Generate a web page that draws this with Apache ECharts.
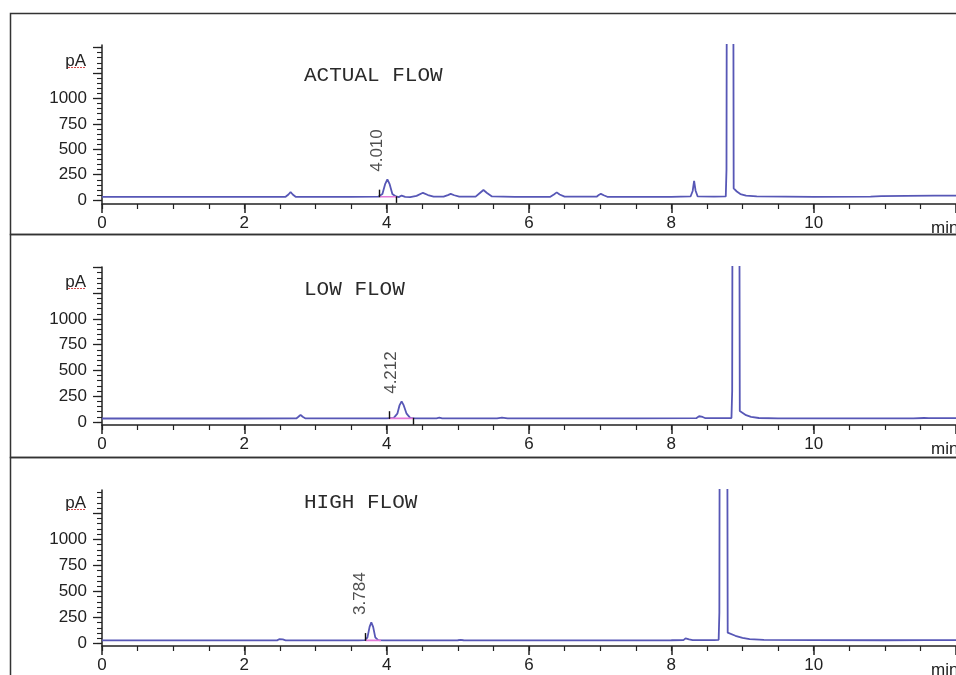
<!DOCTYPE html>
<html>
<head>
<meta charset="utf-8">
<script src="https://cdn.jsdelivr.net/npm/echarts@6/dist/echarts.min.js"></script>
<style>
html,body{margin:0;padding:0;background:#fff;}
#chart{width:956px;height:675px;}
</style>
</head>
<body>
<div id="chart"></div>
<script>
// ---------- DATA ----------
const panelTitles = ['ACTUAL FLOW', 'LOW FLOW', 'HIGH FLOW'];

// [time (min), signal (pA)]
const actualFlowTrace = [
  [0,32],[1,32],[2,32],[2.58,33],[2.62,55],[2.65,80],[2.68,55],[2.72,33],[3.5,33],[3.88,34],
  [3.94,60],[3.98,160],[4.01,205],[4.04,160],[4.08,60],[4.13,36],[4.17,30],[4.21,45],[4.26,32],
  [4.33,30],[4.42,42],[4.51,72],[4.58,50],[4.66,34],[4.80,35],[4.86,50],[4.90,62],[4.95,48],
  [5.02,34],[5.25,35],[5.31,70],[5.36,99],[5.41,70],[5.48,36],[5.8,33],[6.3,33],[6.35,55],
  [6.39,76],[6.43,55],[6.5,34],[6.95,34],[6.98,50],[7.01,62],[7.05,48],[7.1,33],[7.6,32],
  [8.0,33],[8.27,36],[8.30,90],[8.32,190],[8.34,95],[8.37,36],[8.6,34],[8.765,36],[8.775,300],
  [8.78,2500],[8.83,9000],[8.87,2500],[8.876,115],[8.92,85],[8.97,60],[9.05,45],[9.2,36],
  [10.0,33],[10.8,34],[10.95,40],[11.3,42],[11.7,44],[12,44]
];
const lowFlowTrace = [
  [0,33],[1,33],[2,33],[2.73,34],[2.76,50],[2.79,69],[2.82,50],[2.86,34],[3.5,34],[4.0,34],
  [4.10,40],[4.15,80],[4.18,160],[4.21,200],[4.24,160],[4.28,80],[4.33,40],[4.40,34],[4.70,35],
  [4.74,42],[4.78,35],[5.55,35],[5.62,42],[5.7,35],[6.5,34],[7.5,34],[8.35,36],[8.39,55],
  [8.41,62],[8.44,48],[8.48,36],[8.845,38],[8.855,300],[8.86,2500],[8.91,9000],[8.955,2500],
  [8.962,105],[8.99,90],[9.05,65],[9.12,48],[9.23,38],[9.5,35],[10.5,35],[11.4,35],[11.55,38],
  [11.62,37],[12,36]
];
const highFlowTrace = [
  [0,30],[1,30],[2,30],[2.46,31],[2.49,42],[2.51,48],[2.54,40],[2.58,31],[3.2,31],[3.6,31],
  [3.70,34],[3.73,60],[3.76,160],[3.784,203],[3.81,160],[3.84,60],[3.88,34],[3.95,31],[4.5,31],
  [5.0,32],[5.04,36],[5.08,32],[6,31],[7,31],[8.0,32],[8.17,33],[8.20,50],[8.22,55],[8.25,40],
  [8.30,33],[8.6,33],[8.665,36],[8.675,300],[8.68,2500],[8.73,9000],[8.785,2500],[8.792,105],
  [8.82,95],[8.9,75],[9.0,55],[9.1,42],[9.3,35],[10,33],[11,32],[11.6,33],[12,33]
];
const traces = [actualFlowTrace, lowFlowTrace, highFlowTrace];

const peakRetentionTimes = [4.010, 4.212, 3.784];
const peakApexValues = [205, 200, 203];
const integrationWindows = [[3.90, 4.14], [4.03, 4.37], [3.70, 3.92]];
const integrationBaselines = [33, 34, 31];

const xMajorTicks = [0, 2, 4, 6, 8, 10, 12];
const xTickLabels = [0, 2, 4, 6, 8, 10];
const xMinorTicks = [0,0.5,1,1.5,2,2.5,3,3.5,4,4.5,5,5.5,6,6.5,7,7.5,8,8.5,9,9.5,10,10.5,11,11.5,12];
const yMajorTicks = [0, 250, 500, 750, 1000, 1250, 1500];
const yTickLabels = [0, 250, 500, 750, 1000];
const yMinorTicks = [0,50,100,150,200,250,300,350,400,450,500,550,600,650,700,750,800,850,900,950,
  1000,1050,1100,1150,1200,1250,1300,1350,1400,1450,1500];

// ---------- LAYOUT / STYLE ----------
const layouts = [
  {top: 45, height: 159, yMin: -38, yMax: 1525, titleY: 76, pAY: 61, minY: 228},
  {top: 267, height: 158, yMin: -30, yMax: 1505, titleY: 290, pAY: 282, minY: 449},
  {top: 490, height: 156, yMin: -23, yMax: 1473, titleY: 503, pAY: 503, minY: 670}
];
const GRID_LEFT = 102;
const PX_PER_MIN = 71.3;
const X_MAX = 12;
const sansFont = "'Liberation Sans', Arial, sans-serif";
const axisColor = '#222';
const traceColor = '#5757b6';

const chart = echarts.init(document.getElementById('chart'), null, {renderer: 'canvas'});

const grids = [], xAxes = [], yAxes = [], series = [], graphics = [];

layouts.forEach((L, i) => {
  grids.push({left: GRID_LEFT, top: L.top, width: PX_PER_MIN * X_MAX, height: L.height, containLabel: false});
  // major x axis
  xAxes.push({
    type: 'value', gridIndex: i, min: 0, max: X_MAX, position: 'bottom',
    axisLine: {show: true, onZero: false, lineStyle: {color: axisColor, width: 1.5}},
    axisTick: {show: true, customValues: xMajorTicks, length: 9, lineStyle: {color: axisColor, width: 1.5}},
    axisLabel: {show: true, customValues: xTickLabels, margin: 11, fontSize: 17, fontFamily: sansFont, color: axisColor,
      formatter: v => String(v)},
    splitLine: {show: false}
  });
  // minor x axis
  xAxes.push({
    type: 'value', gridIndex: i, min: 0, max: X_MAX, position: 'bottom',
    axisLine: {show: false, onZero: false},
    axisTick: {show: true, customValues: xMinorTicks, length: 5, lineStyle: {color: axisColor, width: 1.2}},
    axisLabel: {show: false},
    splitLine: {show: false}
  });
  // major y axis
  yAxes.push({
    type: 'value', gridIndex: i, min: L.yMin, max: L.yMax, position: 'left',
    axisLine: {show: true, onZero: false, lineStyle: {color: axisColor, width: 1.5}},
    axisTick: {show: true, customValues: yMajorTicks, length: 9, lineStyle: {color: axisColor, width: 1.3}},
    axisLabel: {show: true, customValues: yTickLabels, margin: 15, fontSize: 17, fontFamily: sansFont, color: axisColor,
      formatter: v => String(v)},
    splitLine: {show: false}
  });
  // minor y axis
  yAxes.push({
    type: 'value', gridIndex: i, min: L.yMin, max: L.yMax, position: 'left',
    axisLine: {show: false, onZero: false},
    axisTick: {show: true, customValues: yMinorTicks, length: 5, lineStyle: {color: axisColor, width: 1.1}},
    axisLabel: {show: false},
    splitLine: {show: false}
  });

  const xi = 2 * i, yi = 2 * i;
  // chromatogram trace
  series.push({
    type: 'line', xAxisIndex: xi, yAxisIndex: yi, data: traces[i],
    showSymbol: false, symbol: 'none', clip: true, z: 3,
    lineStyle: {color: traceColor, width: 1.8}
  });
  // integration baseline + event markers
  const [s, e] = integrationWindows[i];
  const b = integrationBaselines[i];
  series.push({
    type: 'line', xAxisIndex: xi, yAxisIndex: yi,
    data: [[s, b], [e, b]], showSymbol: false, symbol: 'none', z: 4,
    lineStyle: {color: '#e27ad8', width: 1.6},
    markLine: {
      silent: true, symbol: 'none', label: {show: false},
      lineStyle: {color: '#111', width: 1.4, type: 'solid'},
      data: [
        [{coord: [s, b - 5]}, {coord: [s, b + 70]}],
        [{coord: [e, b + 5]}, {coord: [e, b - 60]}]
      ]
    }
  });
  // retention time label
  series.push({
    type: 'scatter', xAxisIndex: xi, yAxisIndex: yi,
    data: [[peakRetentionTimes[i], peakApexValues[i]]],
    symbolSize: 1, itemStyle: {color: 'rgba(0,0,0,0)'}, z: 5,
    label: {
      show: true, rotate: 90, position: [-10, -7], align: 'left', verticalAlign: 'middle',
      fontSize: 17, fontFamily: sansFont, color: '#222',
      formatter: p => p.value[0].toFixed(3)
    }
  });

  // panel title
  graphics.push({type: 'text', left: 304, top: L.titleY - 11, z: 10,
    style: {text: panelTitles[i], font: "21px 'Liberation Mono', 'Courier New', monospace", fill: '#2a2a2a'}});
  // unit label
  graphics.push({type: 'text', z: 10,
    style: {text: 'pA', x: 86, y: L.pAY, align: 'right', verticalAlign: 'middle', font: "17px " + sansFont, fill: axisColor}});
  graphics.push({type: 'line', z: 10,
    shape: {x1: 68, y1: L.pAY + 6.5, x2: 86, y2: L.pAY + 6.5},
    style: {stroke: '#d24a4a', lineWidth: 1, lineDash: [2, 1]}});
  // time unit
  graphics.push({type: 'text', z: 10,
    style: {text: 'min', x: 931, y: L.minY, align: 'left', verticalAlign: 'middle', font: "17px " + sansFont, fill: axisColor}});
});

// panel frames
graphics.push({type: 'rect', z: 1, shape: {x: 10.5, y: 13.5, width: 1000, height: 221}, style: {fill: 'none', stroke: '#333', lineWidth: 1.5}});
graphics.push({type: 'rect', z: 1, shape: {x: 10.5, y: 234.5, width: 1000, height: 223}, style: {fill: 'none', stroke: '#333', lineWidth: 1.5}});
graphics.push({type: 'rect', z: 1, shape: {x: 10.5, y: 457.5, width: 1000, height: 300}, style: {fill: 'none', stroke: '#333', lineWidth: 1.5}});

chart.setOption({
  backgroundColor: '#ffffff',
  animation: false,
  grid: grids,
  xAxis: xAxes,
  yAxis: yAxes,
  series: series,
  graphic: graphics
});
</script>
</body>
</html>
